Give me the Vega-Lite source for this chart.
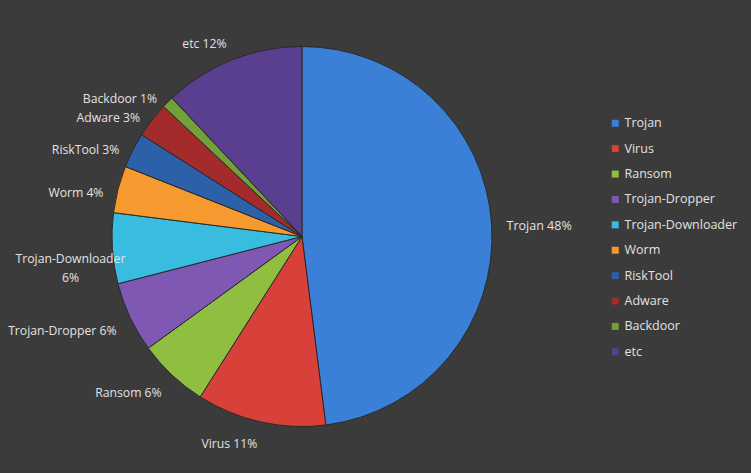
{
  "$schema": "https://vega.github.io/schema/vega-lite/v6.json",
  "autosize": {"type": "none"},
  "padding": {"left": 0, "top": 0, "right": 147, "bottom": 0},
  "width": 604,
  "height": 473,
  "background": "#3b3b3b",
  "config": {"view": {"stroke": null}, "font": "Open Sans"},
  "data": {
    "values": [
      {"rank": 1, "category": "Trojan", "pct": 48, "label": "Trojan 48%"},
      {"rank": 2, "category": "Virus", "pct": 11, "label": "Virus 11%"},
      {"rank": 3, "category": "Ransom", "pct": 6, "label": "Ransom 6%"},
      {"rank": 4, "category": "Trojan-Dropper", "pct": 6, "label": "Trojan-Dropper 6%"},
      {"rank": 5, "category": "Trojan-Downloader", "pct": 6, "label": "Trojan-Downloader\n6%"},
      {"rank": 6, "category": "Worm", "pct": 4, "label": "Worm 4%"},
      {"rank": 7, "category": "RiskTool", "pct": 3, "label": "RiskTool 3%"},
      {"rank": 8, "category": "Adware", "pct": 3, "label": "Adware 3%"},
      {"rank": 9, "category": "Backdoor", "pct": 1, "label": "Backdoor 1%"},
      {"rank": 10, "category": "etc", "pct": 12, "label": "etc 12%"}
    ]
  },
  "encoding": {
    "theta": {"field": "pct", "type": "quantitative", "stack": true},
    "order": {"field": "rank", "type": "quantitative"}
  },
  "layer": [
    {
      "mark": {"type": "arc", "outerRadius": 190, "stroke": "#2a2a2a", "strokeWidth": 1},
      "encoding": {
        "color": {
          "field": "category",
          "type": "nominal",
          "sort": null,
          "scale": {
            "domain": ["Trojan", "Virus", "Ransom", "Trojan-Dropper", "Trojan-Downloader", "Worm", "RiskTool", "Adware", "Backdoor", "etc"],
            "range": ["#3a80d6", "#d8403a", "#8fbe41", "#7f58b4", "#38bde0", "#f6992f", "#2c60a8", "#a32b2b", "#72a13a", "#5a3e8f"]
          },
          "legend": {
            "orient": "none",
            "legendX": 609,
            "legendY": 117,
            "title": null,
            "symbolType": "square",
            "symbolSize": 49,
            "symbolStrokeWidth": 0,
            "labelColor": "#e2e2e2",
            "labelFont": "Open Sans",
            "labelFontSize": 12.5,
            "labelLimit": 200,
            "rowPadding": 12.4,
            "labelOffset": 3
          }
        }
      }
    },
    {
      "mark": {"type": "text", "radius": 205, "align": "left", "baseline": "middle", "fontSize": 12.5, "color": "#e2e2e2", "dy": 2},
      "encoding": {
        "text": {"condition": {"test": "datum.category === 'Trojan'", "field": "label"}, "value": ""}
      }
    },
    {
      "mark": {"type": "text", "radius": 205, "align": "right", "baseline": "middle", "fontSize": 12.2, "color": "#e2e2e2", "dy": 7},
      "encoding": {
        "text": {"condition": {"test": "datum.category !== 'Trojan' && datum.category !== 'Trojan-Downloader' && datum.category !== 'etc'", "field": "label"}, "value": ""}
      }
    },
    {
      "mark": {"type": "text", "radius": 205, "align": "right", "baseline": "middle", "fontSize": 12.2, "color": "#e2e2e2", "dy": -2},
      "encoding": {
        "text": {"condition": {"test": "datum.category === 'etc'", "field": "label"}, "value": ""}
      }
    },
    {
      "mark": {"type": "text", "radius": 232, "align": "center", "baseline": "top", "fontSize": 12.2, "color": "#e2e2e2", "lineBreak": "\n", "lineHeight": 19, "dy": 2},
      "encoding": {
        "text": {"condition": {"test": "datum.category === 'Trojan-Downloader'", "field": "label"}, "value": ""}
      }
    }
  ]
}
